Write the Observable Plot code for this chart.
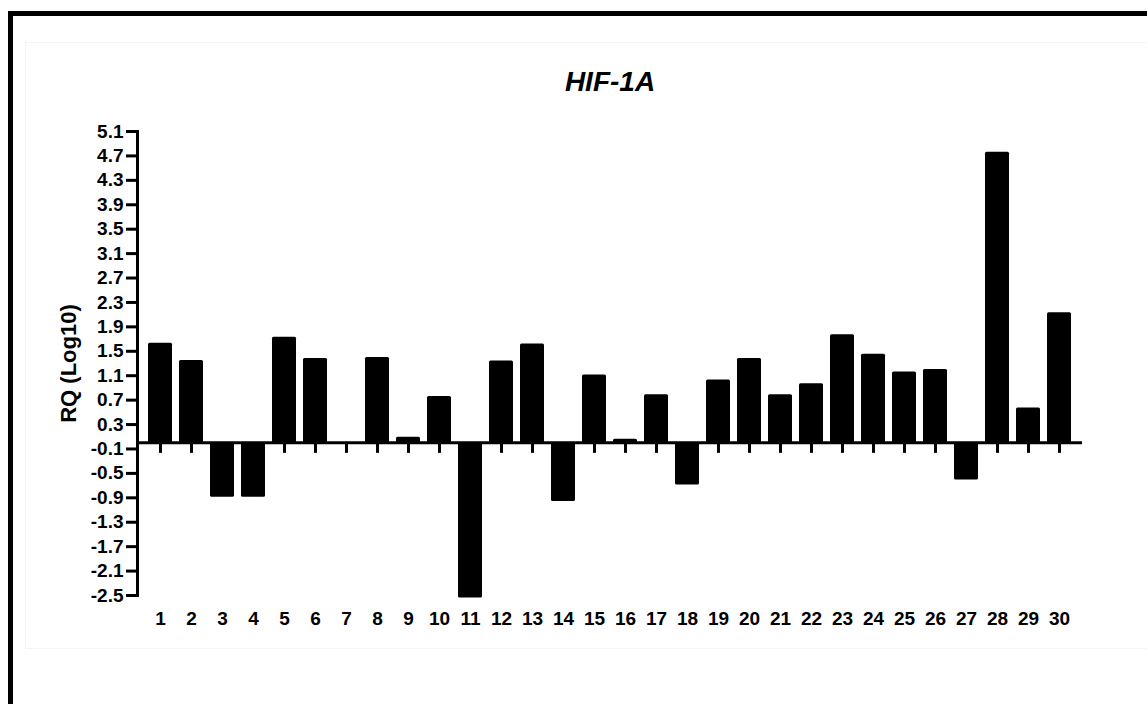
<!DOCTYPE html>
<html>
<head>
<meta charset="utf-8">
<script src="https://cdn.jsdelivr.net/npm/d3@7"></script>
<script src="https://cdn.jsdelivr.net/npm/@observablehq/plot@0.6"></script>
<style>
  html, body { margin: 0; padding: 0; background: #fff; overflow: hidden; }
  body { width: 1147px; height: 704px; position: relative; font-family: "Liberation Sans", Arial, sans-serif; }
  #border { position: absolute; left: 8px; top: 11px; width: 1200px; height: 760px;
            border-left: 5px solid #000; border-top: 5px solid #000; box-sizing: border-box; }
  #panel { position: absolute; left: 25px; top: 42px; width: 1200px; height: 607px;
           border: 1px solid #f4f4f4; box-sizing: border-box; }
  #title { position: absolute; left: 137px; width: 946px; top: 68px; height: 28px; line-height: 28px;
           text-align: center; font-size: 28px; font-weight: bold; font-style: italic; color: #000; }
  #chart { position: absolute; left: 0; top: 100px; }
</style>
</head>
<body>
<div id="border"></div>
<div id="panel"></div>
<div id="title">HIF-1A</div>
<div id="chart"></div>
<script>
// Sample numbers along the x axis
const samples = [1, 2, 3, 4, 5, 6, 7, 8, 9, 10, 11, 12, 13, 14, 15,
                 16, 17, 18, 19, 20, 21, 22, 23, 24, 25, 26, 27, 28, 29, 30];
// Relative quantification, log10 scale
const rq = [1.63, 1.35, -0.89, -0.89, 1.73, 1.38, 0, 1.40, 0.09, 0.76,
            -2.54, 1.34, 1.62, -0.96, 1.11, 0.06, 0.79, -0.69, 1.03, 1.38,
            0.79, 0.97, 1.77, 1.45, 1.16, 1.20, -0.61, 4.76, 0.57, 2.13];
// Y axis tick values
const yTicks = [5.1, 4.7, 4.3, 3.9, 3.5, 3.1, 2.7, 2.3, 1.9, 1.5, 1.1, 0.7, 0.3,
                -0.1, -0.5, -0.9, -1.3, -1.7, -2.1, -2.5];
const yLabel = "RQ (Log10)";

const data = samples.map((s, i) => ({sample: s, rq: rq[i]}));

// Short downward tick drawn below the zero line at each sample
const tickDown = {
  draw(context, size) {
    const len = 2 * Math.sqrt(size / Math.PI);
    context.moveTo(0, 0);
    context.lineTo(0, len);
  }
};

const font = "'Liberation Sans', Arial, sans-serif";

const chart = Plot.plot({
  width: 1147,
  height: 560,
  marginLeft: 137,
  marginRight: 65,
  marginTop: 31,
  marginBottom: 65,
  style: {fontFamily: font, color: "#000", background: "transparent"},
  x: {type: "band", domain: samples, paddingInner: 0.24, paddingOuter: 0.12},
  y: {domain: [-2.5, 5.1]},
  marks: [
    Plot.barY(data, {x: "sample", y: "rq", fill: "#000", rx: 1.5}),
    Plot.ruleY([0], {stroke: "#000", strokeWidth: 3}),
    Plot.dot(samples, {x: d => d, y: () => 0, symbol: tickDown, r: 5,
                       fill: "none", stroke: "#000", strokeWidth: 3}),
    Plot.frame({anchor: "left", stroke: "#000", strokeWidth: 3}),
    Plot.axisY(yTicks, {
      tickSize: 11, tickPadding: 3, strokeWidth: 3,
      tickFormat: d => d.toFixed(1),
      fontSize: 19, fontWeight: "bold", label: null
    }),
    Plot.axisX({
      anchor: "bottom", tickSize: 0, tickPadding: 16,
      fontSize: 19, fontWeight: "bold", label: null
    }),
    Plot.text([yLabel], {
      text: d => d, frameAnchor: "left", textAnchor: "middle", lineAnchor: "middle",
      rotate: -90, dx: -69,
      fontSize: 22, fontWeight: "bold", fill: "#000"
    })
  ]
});

document.getElementById("chart").appendChild(chart);
</script>
</body>
</html>
